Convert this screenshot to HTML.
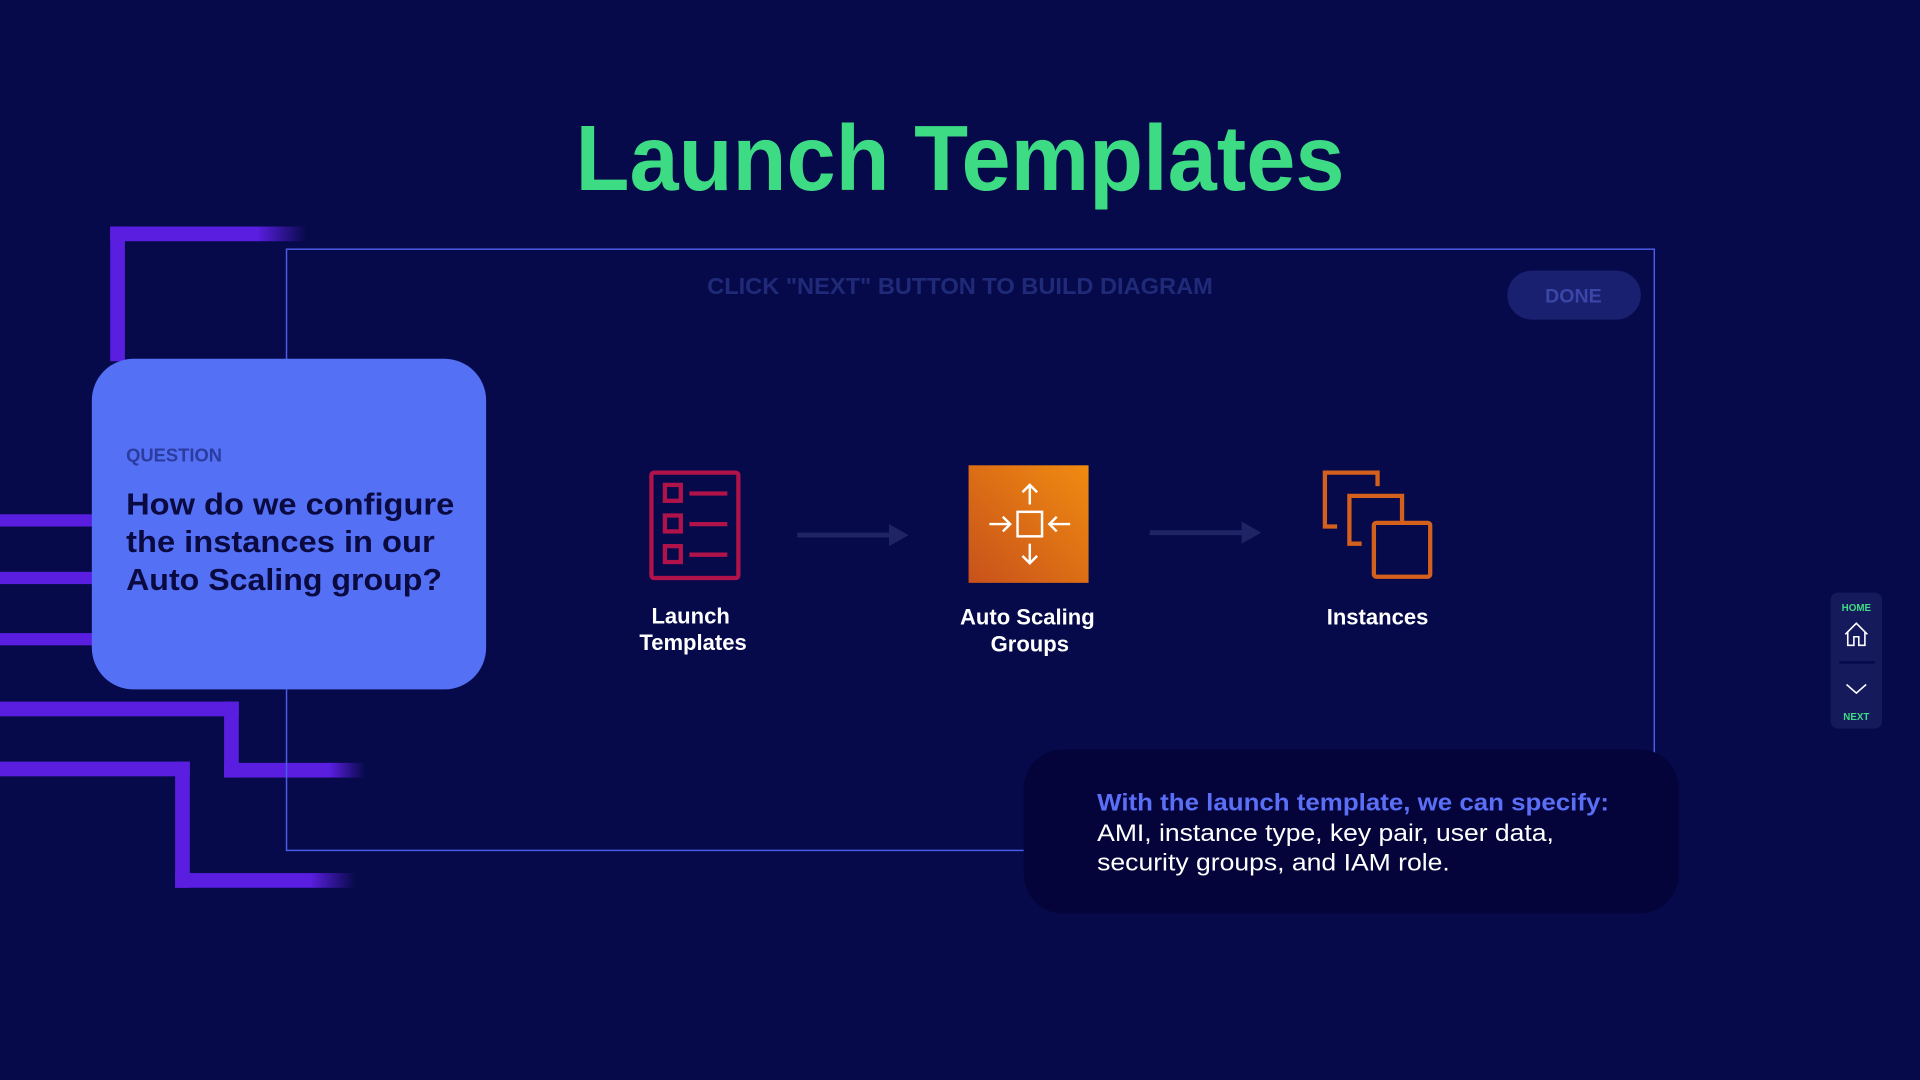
<!DOCTYPE html>
<html><head><meta charset="utf-8"><style>
html,body{margin:0;padding:0;background:#070a4a;}
svg{display:block;}
text{font-family:"Liberation Sans",sans-serif;}
</style></head><body>
<svg width="1920" height="1080" viewBox="0 0 1568 882" xmlns="http://www.w3.org/2000/svg">
<defs>
<linearGradient id="fadeR" x1="0" x2="1" y1="0" y2="0"><stop offset="0" stop-color="#5a1ee0"/><stop offset="0.75" stop-color="#5a1ee0"/><stop offset="1" stop-color="#5a1ee0" stop-opacity="0"/></linearGradient>
<linearGradient id="asg" x1="0" y1="1" x2="1" y2="0"><stop offset="0" stop-color="#c8511b"/><stop offset="1" stop-color="#f08b10"/></linearGradient>
</defs>
<rect width="1568" height="882" fill="#070a4a"/>
<!-- purple lines -->
<g fill="#5a1ee0">
<rect x="90" y="185" width="12" height="110"/>
<rect x="90" y="185" width="160" height="12" fill="url(#fadeR)"/>
<rect x="0" y="420" width="80" height="10"/>
<rect x="0" y="467" width="80" height="10"/>
<rect x="0" y="517" width="80" height="10"/>
<rect x="0" y="573" width="195" height="12"/>
<rect x="183" y="573" width="12" height="62"/>
<rect x="183" y="623" width="115" height="12" fill="url(#fadeR)"/>
<rect x="0" y="622" width="155" height="12"/>
<rect x="143" y="622" width="12" height="103"/>
<rect x="143" y="713" width="147" height="12" fill="url(#fadeR)"/>
</g>
<!-- title -->
<text x="784" y="155" text-anchor="middle" font-size="76" font-weight="bold" fill="#3ddc84" textLength="628" lengthAdjust="spacingAndGlyphs">Launch Templates</text>
<!-- frame -->
<rect x="234" y="203.5" width="1117" height="491" fill="none" stroke="#4a5ce8" stroke-width="1.2"/>
<text x="784" y="240" text-anchor="middle" font-size="19" font-weight="bold" fill="#1f2a78" textLength="413" lengthAdjust="spacingAndGlyphs">CLICK "NEXT" BUTTON TO BUILD DIAGRAM</text>
<rect x="1231" y="221" width="109" height="40" rx="20" fill="#1a2070"/>
<text x="1285" y="247" text-anchor="middle" font-size="16" font-weight="bold" fill="#3a46a8">DONE</text>
<!-- question card -->
<rect x="75" y="293" width="322" height="270" rx="34" fill="#5470f5"/>
<text x="103" y="377" font-size="15" font-weight="bold" fill="#2b3c9e">QUESTION</text>
<g font-size="25" font-weight="bold" fill="#0a0a40">
<text x="103" y="420" textLength="268" lengthAdjust="spacingAndGlyphs">How do we configure</text>
<text x="103" y="451" textLength="252" lengthAdjust="spacingAndGlyphs">the instances in our</text>
<text x="103" y="482" textLength="258" lengthAdjust="spacingAndGlyphs">Auto Scaling group?</text>
</g>
<!-- launch templates icon -->
<g fill="none" stroke="#b0124a" stroke-width="3.5">
<rect x="532" y="386" width="71" height="86" rx="2"/>
<rect x="543" y="396" width="13" height="13"/><line x1="563" y1="403" x2="594" y2="403"/>
<rect x="543" y="421" width="13" height="13"/><line x1="563" y1="428" x2="594" y2="428"/>
<rect x="543" y="446" width="13" height="13"/><line x1="563" y1="453" x2="594" y2="453"/>
</g>
<!-- arrows -->
<g fill="#1e2466" stroke="#1e2466">
<line x1="651" y1="437" x2="728" y2="437" stroke-width="4"/><polygon points="726,428 742,437 726,446" stroke="none"/>
<line x1="939" y1="435" x2="1016" y2="435" stroke-width="4"/><polygon points="1014,426 1030,435 1014,444" stroke="none"/>
</g>
<!-- ASG -->
<rect x="791" y="380" width="98" height="96" fill="url(#asg)"/>
<g fill="none" stroke="#fff" stroke-width="2">
<rect x="831" y="418" width="20" height="20"/>
<line x1="841" y1="396" x2="841" y2="412"/><polyline points="835,402 841,396 847,402"/>
<line x1="841" y1="444" x2="841" y2="460"/><polyline points="835,454 841,460 847,454"/>
<line x1="808" y1="428" x2="825" y2="428"/><polyline points="819,422 825,428 819,434"/>
<line x1="857" y1="428" x2="874" y2="428"/><polyline points="863,422 857,428 863,434"/>
</g>
<!-- instances -->
<g fill="none" stroke="#d4601d" stroke-width="3.5">
<path d="M1092 430 H1082 V386 H1125 V397"/>
<path d="M1112 444 H1102 V405 H1145 V427"/>
<rect x="1122" y="427" width="46" height="44" rx="2"/>
</g>
<!-- labels -->
<g font-size="18" font-weight="bold" fill="#fff" text-anchor="middle">
<text x="564" y="509">Launch</text>
<text x="566" y="531">Templates</text>
<text x="839" y="510">Auto Scaling</text>
<text x="841" y="532">Groups</text>
<text x="1125" y="510">Instances</text>
</g>
<!-- bottom info box -->
<rect x="836" y="612" width="535" height="134" rx="32" fill="#04043a"/>
<text x="896" y="662" font-size="20" font-weight="bold" fill="#5a6ff5" textLength="418" lengthAdjust="spacingAndGlyphs">With the launch template, we can specify:</text>
<text x="896" y="687" font-size="20" fill="#fff" textLength="373" lengthAdjust="spacingAndGlyphs">AMI, instance type, key pair, user data,</text>
<text x="896" y="711" font-size="20" fill="#fff" textLength="288" lengthAdjust="spacingAndGlyphs">security groups, and IAM role.</text>
<!-- nav -->
<rect x="1495" y="484" width="42" height="111" rx="6" fill="#141a5c"/>
<text x="1516" y="499" text-anchor="middle" font-size="8" font-weight="bold" fill="#3ddc84">HOME</text>
<g fill="none" stroke="#fff" stroke-width="1.3">
<path d="M1507 518 L1516 509 L1525 518 M1509 516 V527 H1514 V520 H1518 V527 H1523 V516"/>
<polyline points="1508,559 1516,566 1524,559"/>
</g>
<rect x="1502" y="540" width="29" height="2" fill="#070a4a"/>
<text x="1516" y="588" text-anchor="middle" font-size="8" font-weight="bold" fill="#3ddc84">NEXT</text>
</svg>
</body></html>
